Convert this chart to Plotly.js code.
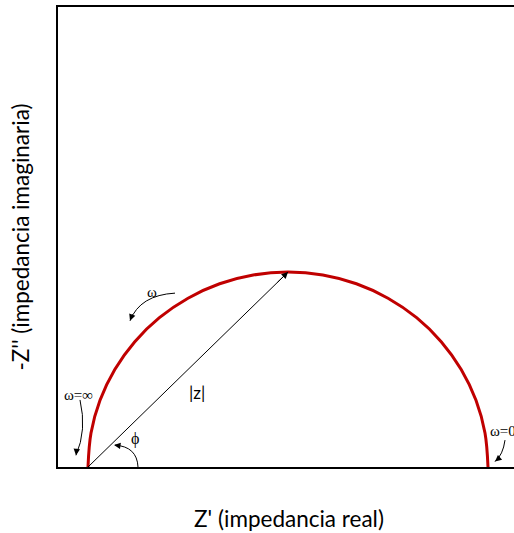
<!DOCTYPE html>
<html>
<head>
<meta charset="utf-8">
<script src="https://cdn.plot.ly/plotly-3.0.1.min.js"></script>
<style>
  html, body { margin: 0; padding: 0; overflow: hidden; background: #fff; }
  #chart { width: 540px; height: 533px; }
</style>
</head>
<body>
<div id="chart"></div>
<script>
// Nyquist locus of a parallel RC cell: Z' against -Z''
const zReal = [1.5, 1.65, 2.10, 2.84, 3.84, 5.07, 6.5, 8.08, 9.76, 11.5,
               13.24, 14.92, 16.5, 17.93, 19.16, 20.16, 20.90, 21.35, 21.5];
const zImag = [0, 1.74, 3.42, 5.0, 6.43, 7.66, 8.66, 9.40, 9.85, 10,
               9.85, 9.40, 8.66, 7.66, 6.43, 5.0, 3.42, 1.74, 0];

// |z| vector from the high-frequency intercept to the top of the arc
const vecStart = [1.5, 0];
const vecEnd = [11.5, 10];

const xRange = [0, 23.1];
const yRange = [0, 23.6];

const serif = 'Liberation Serif, Times New Roman, serif';
const sans = 'Lato, Open Sans, sans-serif';

const trace = {
  x: zReal,
  y: zImag,
  mode: 'lines',
  line: { color: '#c00000', width: 3, shape: 'spline', smoothing: 1 },
  hoverinfo: 'skip',
  showlegend: false
};

// small curved guide arrows (body as a quadratic path, head as an annotation)
const curve = (p) => ({
  type: 'path', xref: 'x', yref: 'y', path: p,
  line: { color: '#000', width: 1 }
});
const head = (x, y, ax, ay) => ({
  x: x, y: y, ax: ax, ay: ay, text: '', showarrow: true,
  arrowhead: 2, arrowsize: 1.3, arrowwidth: 1, arrowcolor: '#000'
});
const label = (x, y, t, font, size) => ({
  x: x, y: y, text: t, showarrow: false,
  font: { family: font, size: size, color: '#000' }
});

const layout = {
  width: 540,
  height: 533,
  margin: { l: 58, r: 20, t: 7, b: 66 },
  paper_bgcolor: '#fff',
  plot_bgcolor: '#fff',
  xaxis: {
    range: xRange, showgrid: false, zeroline: false, showticklabels: false,
    ticks: '', showline: true, mirror: true, linecolor: '#000', linewidth: 2,
    fixedrange: true,
    title: { text: "Z' (impedancia real)", standoff: 43,
             font: { family: sans, size: 22.5, color: '#000' } }
  },
  yaxis: {
    range: yRange, showgrid: false, zeroline: false, showticklabels: false,
    ticks: '', showline: true, mirror: true, linecolor: '#000', linewidth: 2,
    fixedrange: true,
    title: { text: "-Z'' (impedancia imaginaria)", standoff: 20,
             font: { family: sans, size: 22.5, color: '#000' } }
  },
  shapes: [
    curve('M 1.1,3.44 Q 1.45,1.9 0.9,0.6'),
    curve('M 5.85,8.92 Q 4.1,8.82 3.6,7.5'),
    curve('M 22.35,1.38 Q 22.25,0.62 21.85,0.28'),
    curve('M 4.0,0 Q 3.95,1.05 2.85,1.12'),
    {
      type: 'line', xref: 'x', yref: 'y',
      x0: vecStart[0], y0: vecStart[1], x1: vecEnd[0], y1: vecEnd[1],
      line: { color: '#000', width: 1 }
    }
  ],
  annotations: [
    {
      x: vecEnd[0], y: vecEnd[1], ax: vecEnd[0] - 0.6, ay: vecEnd[1] - 0.6,
      axref: 'x', ayref: 'y', text: '', showarrow: true,
      arrowhead: 2, arrowsize: 1.3, arrowwidth: 1, arrowcolor: '#000'
    },
    head(0.9, 0.6, 1, -8),
    head(3.6, 7.5, 3, -8),
    head(21.85, 0.28, 6, -5),
    head(2.8, 1.13, 7, 1),
    label(6.95, 3.8, '|z|', sans, 17),
    label(3.85, 1.45, '\u03d5', serif, 16),
    label(1.0, 3.7, '\u03c9=\u221e', serif, 15),
    label(4.7, 9.0, '\u03c9', serif, 15),
    { x: 21.5, y: 1.85, text: '\u03c9=0', showarrow: false, xanchor: 'left',
      font: { family: serif, size: 15, color: '#000' } }
  ]
};

Plotly.newPlot('chart', [trace], layout, { displayModeBar: false, staticPlot: true });
</script>
</body>
</html>
